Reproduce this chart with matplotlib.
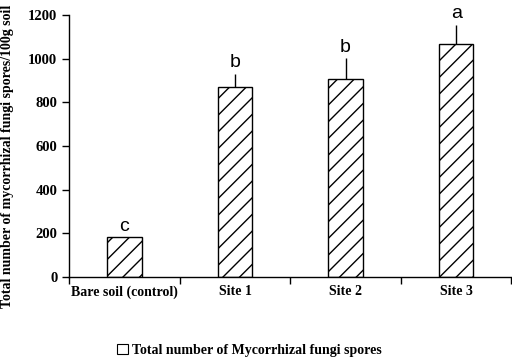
import matplotlib.pyplot as plt
from matplotlib.patches import Patch

# -----------------------------
# DATA
# -----------------------------
categories = ["Bare soil (control)", "Site 1", "Site 2", "Site 3"]
spores = [182, 869, 905, 1066]
spores_err = [0, 62, 97, 88]
letters = ["c", "b", "b", "a"]

SERIF = "Liberation Serif"
SANS = "Liberation Sans"

fig = plt.figure(figsize=(5.12, 3.61), dpi=100)
ax = fig.add_axes([0.135, 0.2327, 0.864, 0.7257])

x = list(range(len(categories)))
ax.bar(x, spores, width=0.31, color="white", edgecolor="black",
       linewidth=1.0, hatch="//")
ax.errorbar(x, spores, yerr=[[0] * len(spores), spores_err], fmt="none",
            ecolor="black", elinewidth=1.0, capsize=0)

for xi, v, e, lab in zip(x, spores, spores_err, letters):
    ax.text(xi, v + e + 12, lab, ha="center", va="bottom",
            fontsize=14, family=SANS)

ax.set_xlim(-0.5, 3.5)
ax.set_ylim(0, 1200)
ax.set_yticks(range(0, 1201, 200))
ax.set_yticklabels([str(v) for v in range(0, 1201, 200)],
                   fontsize=10.5, family=SERIF, fontweight="bold")

# boundary ticks without labels, labels at the category centres
ax.set_xticks([-0.5, 0.5, 1.5, 2.5, 3.5])
ax.set_xticklabels([])
ax.set_xticks(x, minor=True)
ax.set_xticklabels(categories, minor=True, fontsize=10, family=SERIF,
                   fontweight="bold")
ax.tick_params(axis="x", which="minor", length=0, pad=6)
ax.tick_params(axis="both", which="major", length=5, width=1, direction="out")

for side in ["top", "right"]:
    ax.spines[side].set_visible(False)
for side in ["left", "bottom"]:
    ax.spines[side].set_linewidth(1.0)

fig.text(0.015, 0.566, "Total number of mycorrhizal fungi spores/100g soil",
         rotation=90, ha="center", va="center", fontsize=10,
         family=SERIF, fontweight="bold")

handle = Patch(facecolor="white", edgecolor="black", linewidth=0.8)
fig.legend([handle], ["Total number of Mycorrhizal fungi spores"],
           loc="center", bbox_to_anchor=(0.487, 0.03), frameon=False,
           handlelength=0.8, handleheight=0.8, handletextpad=0.3,
           prop={"family": SERIF, "weight": "bold", "size": 10})

plt.savefig("out.png", dpi=100)
plt.close()
